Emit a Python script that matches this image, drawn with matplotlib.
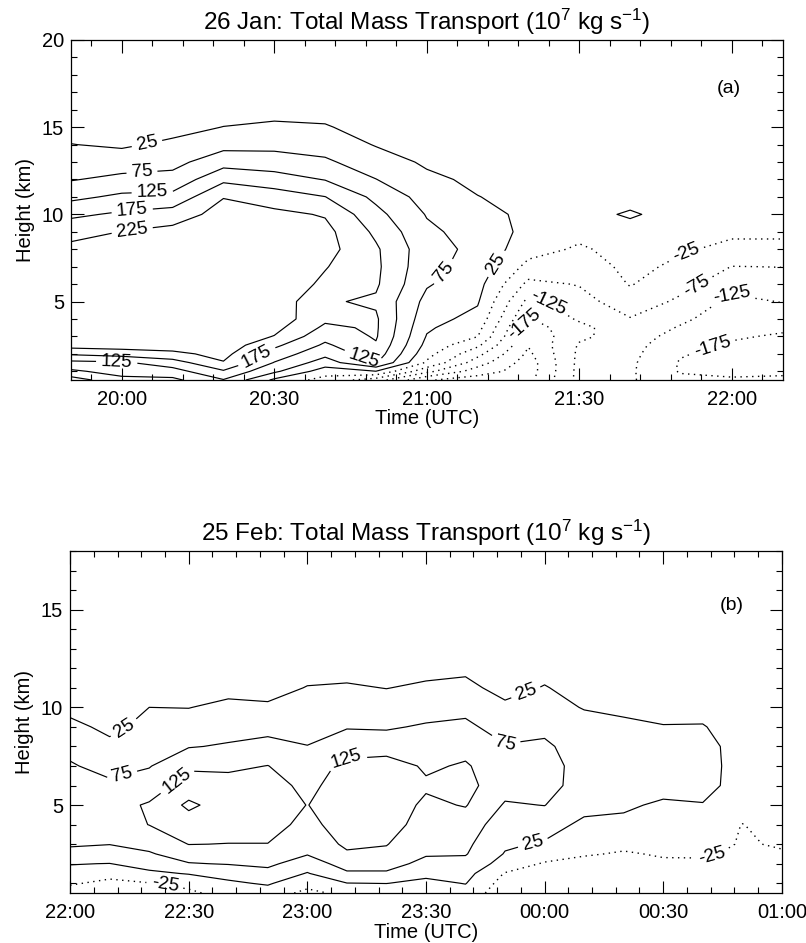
import numpy as np
import matplotlib
matplotlib.use("Agg")
import matplotlib.pyplot as plt
from matplotlib.ticker import MultipleLocator, FuncFormatter

plt.rcParams['font.family'] = ['Liberation Sans', 'DejaVu Sans']
plt.rcParams['mathtext.fontset'] = 'custom'
plt.rcParams['mathtext.rm'] = 'Liberation Sans'
plt.rcParams['mathtext.it'] = 'Liberation Sans:italic'
plt.rcParams['mathtext.bf'] = 'Liberation Sans:bold'

# ------------------------------------------------------------------
# Panel (a): 26 Jan, total mass transport (1e7 kg/s)
# one profile (values at jan_heights, km) per 10-min time column
# ------------------------------------------------------------------
jan_times = ["19:50", "20:00", "20:10", "20:20", "20:30", "20:40", "20:50", "21:00",
             "21:10", "21:20", "21:30", "21:40", "21:50", "22:00", "22:10"]
jan_heights = [0.5, 1, 1.5, 2, 2.5, 3, 3.5, 4, 5, 6, 7, 8, 9, 10, 11, 12, 13, 14, 15, 16, 18, 20]
jan_transport = [
    [0, 66, 112, 182, 247, 255, 258, 260, 260, 258, 250, 238, 208, 165, 113, 72, 48, 26, 8, 0, 0, 0],
    [60, 95, 118, 197, 250, 256, 258, 260, 260, 260, 256, 248, 226, 183, 135, 88, 50, 18, 5, 0, 0, 0],
    [63, 105, 152, 213, 250, 252, 258, 260, 260, 260, 260, 252, 241, 198, 140, 92, 60, 35, 8, 0, 0, 0],
    [122, 169, 222, 240, 255, 260, 260, 260, 260, 260, 260, 260, 255, 245, 223, 164, 105, 59, 26, 3, 0, 0],
    [15, 85, 123, 154, 186, 223, 240, 255, 260, 260, 260, 260, 250, 237, 200, 147, 98, 61, 33, 10, 0, 0],
    [-45, 0, 52, 89, 117, 141, 165, 185, 180, 215, 228, 243, 240, 221, 176, 123, 83, 54, 29, 8, 0, 0],
    [-100, 24, 130, 155, 170, 180, 182, 182, 168, 182, 185, 182, 165, 140, 113, 76, 48, 22, 5, 0, 0, 0],
    [-220, -110, -32, -8, 10, 22, 32, 42, 60, 80, 90, 95, 85, 72, 55, 35, 18, 8, 3, 0, 0, 0],
    [-250, -200, -150, -110, -65, -24, -8, 10, 30, 42, 55, 62, 55, 40, 26, 16, 10, 5, 2, 0, 0, 0],
    [-240, -250, -250, -235, -222, -215, -200, -180, -140, -88, -40, -5, 12, 15, 12, 8, 4, 2, 0, 0, 0, 0],
    [-110, -110, -112, -115, -120, -135, -140, -118, -95, -72, -52, -32, -10, 2, 3, 3, 2, 0, 0, 0, 0, 0],
    [-120, -118, -116, -112, -108, -100, -90, -78, -45, -22, -12, -5, 0, 33, 0, 0, 0, 0, 0, 0, 0, 0],
    [-160, -180, -180, -170, -158, -145, -130, -115, -85, -58, -35, -20, -8, -2, 0, 0, 0, 0, 0, 0, 0, 0],
    [-165, -195, -205, -195, -180, -170, -162, -155, -138, -105, -76, -35, -18, -8, -3, 0, 0, 0, 0, 0, 0, 0],
    [-165, -185, -200, -198, -190, -180, -168, -150, -123, -100, -74, -35, -18, -8, -3, 0, 0, 0, 0, 0, 0, 0],
]
jan_levels = [-225, -175, -125, -75, -25, 25, 75, 125, 175, 225]

# ------------------------------------------------------------------
# Panel (b): 25 Feb
# ------------------------------------------------------------------
feb_times = ["22:00", "22:10", "22:20", "22:30", "22:40", "22:50", "23:00", "23:10", "23:20",
             "23:30", "23:40", "23:50", "00:00", "00:10", "00:20", "00:30", "00:40", "00:50", "01:00"]
feb_heights = [0.5, 1, 1.5, 2, 2.5, 3, 4, 5, 6, 7, 8, 9, 10, 11, 12, 13, 14, 16, 18]
feb_transport = [
    [-53, -18, 10, 27, 62, 80, 100, 105, 95, 80, 60, 34, 15, 6, 2, 0, 0, 0, 0],
    [-60, -40, -5, 24, 55, 76, 100, 108, 85, 58, 33, 17, 8, 3, 0, 0, 0, 0, 0],
    [-45, -27, 15, 45, 70, 90, 126, 130, 100, 72, 55, 35, 25, 5, 0, 0, 0, 0, 0],
    [-35, -10, 28, 72, 100, 126, 150, 185, 145, 118, 72, 45, 24, 5, 0, 0, 0, 0, 0],
    [-5, 18, 40, 78, 105, 124, 145, 150, 145, 115, 80, 55, 35, 12, 0, 0, 0, 0, 0],
    [5, 30, 60, 85, 105, 124, 145, 150, 145, 126, 90, 60, 32, 8, 0, 0, 0, 0, 0],
    [-40, -5, 22, 50, 78, 88, 110, 124, 112, 95, 76, 60, 45, 27, 8, 0, 0, 0, 0],
    [-10, 24, 68, 95, 118, 135, 150, 150, 150, 140, 100, 72, 50, 30, 10, 0, 0, 0, 0],
    [-8, 26, 68, 95, 115, 127, 145, 155, 155, 150, 100, 70, 45, 24, 8, 0, 0, 0, 0],
    [-15, 12, 38, 60, 80, 90, 105, 115, 132, 118, 105, 80, 55, 32, 12, 0, 0, 0, 0],
    [5, 27, 42, 60, 78, 85, 100, 128, 140, 130, 110, 85, 62, 38, 15, 0, 0, 0, 0],
    [-55, -45, -28, 5, 22, 32, 50, 70, 95, 95, 78, 55, 35, 8, 0, 0, 0, 0, 0],
    [-50, -48, -42, -30, 0, 20, 45, 76, 88, 90, 82, 65, 45, 28, 8, 0, 0, 0, 0],
    [-52, -50, -45, -35, -22, -5, 15, 40, 60, 60, 55, 45, 22, 5, 0, 0, 0, 0, 0],
    [-50, -50, -48, -40, -28, -18, 10, 35, 55, 55, 50, 35, 15, 3, 0, 0, 0, 0, 0],
    [-45, -45, -40, -30, -22, -15, -5, 15, 48, 50, 45, 27, 10, 2, 0, 0, 0, 0, 0],
    [-45, -45, -40, -32, -20, -12, 0, 22, 45, 48, 45, 28, 8, 0, 0, 0, 0, 0, 0],
    [-40, -40, -38, -35, -32, -28, -26, -5, 0, 0, 0, 0, 0, 0, 0, 0, 0, 0, 0],
    [-40, -38, -35, -32, -28, -22, -10, -3, 0, 0, 0, 0, 0, 0, 0, 0, 0, 0, 0],
]
feb_levels = [-25, 25, 75, 125, 175]

# contour-label anchor points (time, height) -- placement only
jan_label_at = {
    25: [("20:05", 14.0), ("21:13", 7.3)],
    75: [("20:04", 12.3), ("21:05", 6.3)],
    125: [("20:06", 11.3), ("19:59", 1.35), ("20:48", 2.0)],
    175: [("20:02", 10.4), ("20:26", 2.1)],
    225: [("20:02", 9.2)],
    -25: [("21:51", 7.8)],
    -75: [("21:53", 5.9)],
    -125: [("21:24", 5.0), ("22:00", 5.5)],
    -175: [("21:18", 3.9), ("21:56", 2.6)],
}
feb_label_at = {
    25: [("22:14", 8.8), ("23:55", 10.9), ("23:57", 3.1)],
    75: [("22:13", 6.65), ("23:50", 7.8)],
    125: [("22:26", 6.5), ("23:09", 7.7)],
    -25: [("22:24", 0.95), ("00:42", 2.7)],
}


def to_minutes(s, base):
    h, m = map(int, s.split(":"))
    v = h * 60 + m
    if v < base:
        v += 1440
    return v


def time_fmt(m, pos):
    m = int(round(m)) % 1440
    return f"{m // 60:02d}:{m % 60:02d}"


def draw(ax, times, heights, cols, levels, labels, base,
         xlim, ylim, title, tag, tagxy, xlabelpad):
    X = np.array([to_minutes(t, base) for t in times], dtype=float)
    Y = np.array(heights, dtype=float)
    Z = np.array(cols, dtype=float).T
    ax.set_xlim(to_minutes(xlim[0], base), to_minutes(xlim[1], base))
    ax.set_ylim(*ylim)
    for lev in levels:
        if lev > 0:
            cs = ax.contour(X, Y, Z, levels=[lev], colors='k', linewidths=0.85,
                            linestyles='solid')
        else:
            cs = ax.contour(X, Y, Z, levels=[lev], colors='k', linewidths=1.0,
                            linestyles='dotted')
            cs.set_linestyle((0, (1.0, 3.2)))
        pts = labels.get(lev)
        if pts:
            manual = [(to_minutes(t, base), h) for t, h in pts]
            ax.clabel(cs, manual=manual, inline=True, fmt='%d',
                      fontsize=13.5, inline_spacing=5)

    ax.xaxis.set_major_locator(MultipleLocator(30))
    ax.xaxis.set_minor_locator(MultipleLocator(6))
    ax.xaxis.set_major_formatter(FuncFormatter(time_fmt))
    ax.yaxis.set_major_locator(MultipleLocator(5))
    ax.yaxis.set_minor_locator(MultipleLocator(1))
    ax.tick_params(which='both', direction='in', top=True, right=True,
                   labelsize=14.5, width=0.8)
    ax.tick_params(which='major', length=9)
    ax.tick_params(which='minor', length=4.5)
    ax.tick_params(axis='x', which='major', pad=7)
    ax.tick_params(axis='y', which='major', pad=5)
    for sp in ax.spines.values():
        sp.set_linewidth(0.9)
    ax.set_xlabel("Time (UTC)", fontsize=14.5, labelpad=xlabelpad)
    ax.set_ylabel("Height (km)", fontsize=14.5, labelpad=5)
    ax.set_title(title, fontsize=17.5, pad=7)
    ax.text(tagxy[0], tagxy[1], tag, transform=ax.transAxes, fontsize=14,
            ha='center', va='center')


fig = plt.figure(figsize=(8.06, 9.43), dpi=100)
ax_a = fig.add_axes([0.088, 0.597, 0.883, 0.3606])
ax_b = fig.add_axes([0.087, 0.053, 0.883, 0.3627])

draw(ax_a, jan_times, jan_heights, jan_transport, jan_levels,
     jan_label_at, 19 * 60, ("19:50", "22:10"), (0.5, 20),
     r"26 Jan: Total Mass Transport (10$^7$ kg s$^{-1}$)", "(a)", (0.925, 0.856), 0.5)
draw(ax_b, feb_times, feb_heights, feb_transport, feb_levels,
     feb_label_at, 21 * 60, ("22:00", "01:00"), (0.5, 18),
     r"25 Feb: Total Mass Transport (10$^7$ kg s$^{-1}$)", "(b)", (0.93, 0.84), 1)

fig.savefig("out.png", dpi=100)
